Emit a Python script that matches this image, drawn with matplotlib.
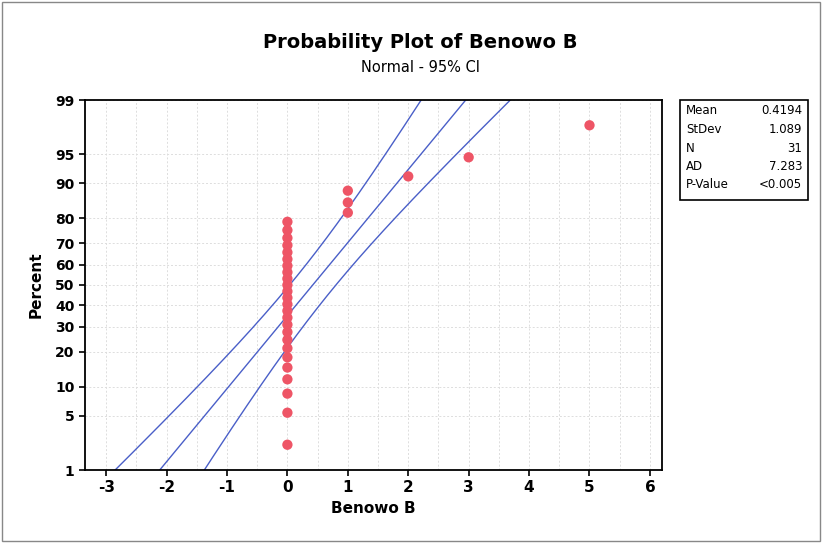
import numpy as np
import matplotlib
matplotlib.use("Agg")
import matplotlib.pyplot as plt
from matplotlib.patches import Rectangle
from statistics import NormalDist

# Data (Benowo B observations)
values = [0]*25 + [1, 1, 1, 2, 3, 5]
x_ticks = [-3, -2, -1, 0, 1, 2, 3, 4, 5, 6]
y_ticks = [1, 5, 10, 20, 30, 40, 50, 60, 70, 80, 90, 95, 99]
stat_labels = ["Mean", "StDev", "N", "AD", "P-Value"]
stat_values = ["0.4194", "1.089", "31", "7.283", "<0.005"]
title = "Probability Plot of Benowo B"
subtitle = "Normal - 95% CI"

nd = NormalDist()
def z(p):
    return nd.inv_cdf(p / 100.0)

vals = np.sort(np.array(values, dtype=float))
n = len(vals)
mean = vals.mean()
sd = vals.std(ddof=1)
ranks = np.arange(1, n + 1)
pct = (ranks - 0.3) / (n + 0.4) * 100
zpts = np.array([z(p) for p in pct])

zz = np.linspace(z(0.5), z(99.5), 300)
xc = mean + zz * sd
half = 1.96 * sd * np.sqrt(1.0 / n + zz**2 / (2 * n))

plt.rcParams['font.family'] = ['DejaVu Sans']
fig = plt.figure(figsize=(8.22, 5.43), dpi=100)
fig.patches.append(Rectangle((0.003, 0.003), 0.994, 0.994, transform=fig.transFigure,
                             fill=False, edgecolor='#888888', lw=1.0))

W, H = 822, 543
left, right, top, bottom = 85, 662, 100, 470
ax = fig.add_axes([left / W, 1 - bottom / H, (right - left) / W, (bottom - top) / H])

ax.set_xlim(-3.35, 6.2)
ax.set_ylim(z(1), z(99))

for xv in np.arange(-3, 6.01, 0.5):
    ax.axvline(xv, color='#dddddd', lw=0.7, ls=(0, (2, 2)), zorder=0)
for yv in y_ticks:
    ax.axhline(z(yv), color='#dddddd', lw=0.7, ls=(0, (2, 2)), zorder=0)

blue = '#4a5fc8'
ax.plot(xc, zz, color=blue, lw=1.0, zorder=2)
ax.plot(xc - half, zz, color=blue, lw=1.0, zorder=2)
ax.plot(xc + half, zz, color=blue, lw=1.0, zorder=2)

ax.scatter(vals, zpts, s=55, color='#ee5566', edgecolors='none', zorder=3)

ax.set_xticks(x_ticks)
ax.set_xticklabels([str(t) for t in x_ticks], fontsize=11, fontweight='bold')
ax.set_yticks([z(t) for t in y_ticks])
ax.set_yticklabels([str(t) for t in y_ticks], fontsize=10, fontweight='bold')
ax.tick_params(direction='out', length=4, width=1.2)
for s in ax.spines.values():
    s.set_linewidth(1.3)

ax.set_xlabel("Benowo B", fontsize=11, fontweight='bold', labelpad=4)
ax.set_ylabel("Percent", fontsize=11, fontweight='bold', labelpad=8)

fig.text(420 / W, 1 - 43 / H, title, ha='center', va='center', fontsize=14, fontweight='bold')
fig.text(420 / W, 1 - 67 / H, subtitle, ha='center', va='center', fontsize=10.5)

# Stats box
bx0, bx1, by0, by1 = 680, 808, 100, 200
fig.patches.append(Rectangle((bx0 / W, 1 - by1 / H), (bx1 - bx0) / W, (by1 - by0) / H,
                             transform=fig.transFigure, fill=False, edgecolor='black', lw=1.2))
for i, (lab, v) in enumerate(zip(stat_labels, stat_values)):
    yy = 1 - (111 + i * 18.5) / H
    fig.text((bx0 + 6) / W, yy, lab, ha='left', va='center', fontsize=8.5)
    fig.text((bx1 - 6) / W, yy, v, ha='right', va='center', fontsize=8.5)

fig.savefig("out.png", dpi=100)
